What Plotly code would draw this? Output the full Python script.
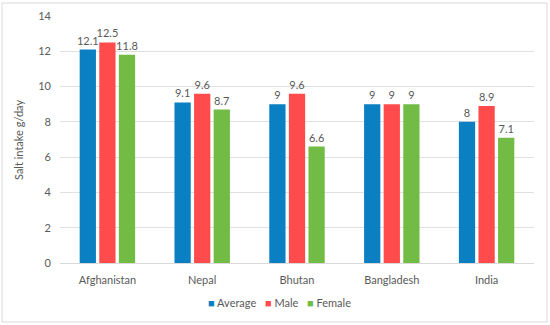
import plotly.graph_objects as go

countries = ["Afghanistan", "Nepal", "Bhutan", "Bangladesh", "India"]
average = [12.1, 9.1, 9, 9, 8]
male = [12.5, 9.6, 9.6, 9, 8.9]
female = [11.8, 8.7, 6.6, 9, 7.1]
y_ticks = [0, 2, 4, 6, 8, 10, 12, 14]

series = [("Average", average, "#0A7FC2"), ("Male", male, "#FF4B4B"), ("Female", female, "#72BB45")]

PL, PR, PT, PB = 60, 16, 16, 62
W, H = 550, 325
pw, ph = W - PL - PR, H - PT - PB

def px_x(p):
    return (p - PL) / pw

def px_y(p):
    return (H - PB - p) / ph

fig = go.Figure()
for name, vals, col in series:
    fig.add_trace(go.Bar(
        x=countries, y=vals, name=name, marker=dict(color=col, line=dict(width=0)),
        text=[str(v) for v in vals], textposition="outside", constraintext="none",
        textfont=dict(size=11, color="#595959"), cliponaxis=False, showlegend=False,
    ))

font = "Lato, Open Sans, sans-serif"
annotations = [dict(text="Salt intake g/day", textangle=-90, xref="paper", yref="paper",
                    x=px_x(18), y=px_y(140), xanchor="center", yanchor="middle", showarrow=False,
                    font=dict(size=11, color="#595959"))]
legend_items = [("Average", "#0A7FC2", 207), ("Male", "#FF4B4B", 264), ("Female", "#72BB45", 306)]
for name, col, xpix in legend_items:
    annotations.append(dict(text=f"<span style='color:{col}'>■</span> {name}", xref="paper", yref="paper",
                            x=px_x(xpix - 1), y=px_y(302), xanchor="left", yanchor="middle",
                            showarrow=False, font=dict(size=11, color="#595959")))

fig.update_layout(
    width=W, height=H,
    margin=dict(l=PL, r=PR, t=PT, b=PB),
    paper_bgcolor="white", plot_bgcolor="white",
    font=dict(family=font, size=11, color="#595959"),
    barmode="group", bargap=0.38, bargroupgap=0.17,
    showlegend=False,
    xaxis=dict(showgrid=False, showline=True, linecolor="#D9D9D9", linewidth=1,
               ticks="", ticklabelstandoff=7, tickfont=dict(size=11, color="#595959"), automargin=False),
    yaxis=dict(range=[0, 14], tickvals=y_ticks, showgrid=True, gridcolor="#E0E0E0",
               gridwidth=1, zeroline=False, showline=False, ticks="", ticklabelstandoff=8,
               tickfont=dict(size=11, color="#595959"), automargin=False),
    annotations=annotations,
    shapes=[dict(type="rect", xref="paper", yref="paper", x0=px_x(2), x1=px_x(547),
                 y0=px_y(322), y1=px_y(3),
                 line=dict(color="#D9D9D9", width=1), fillcolor="rgba(0,0,0,0)", layer="above")],
)
fig.write_html("out.html", config={"displayModeBar": False},
               post_script="document.body.style.margin='0';document.body.style.overflow='hidden';")
